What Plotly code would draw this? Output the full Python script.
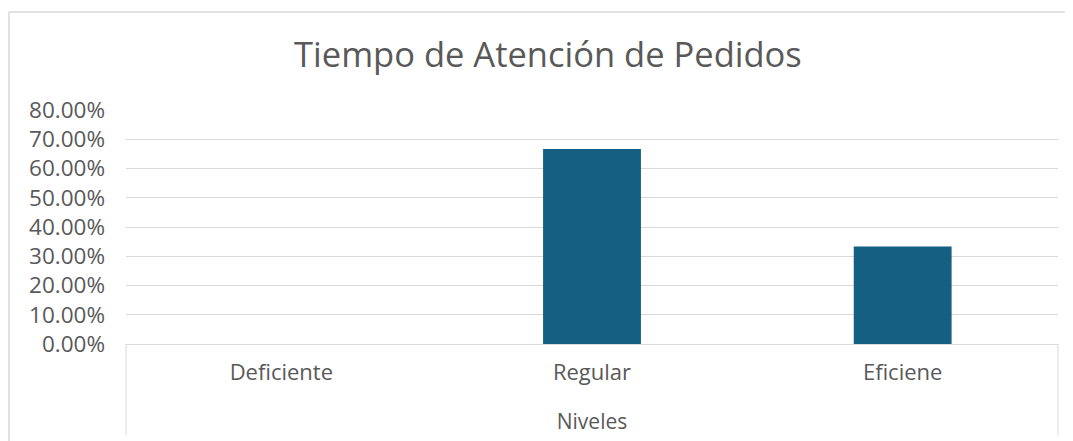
import plotly.graph_objects as go

# chart data
niveles = ["Deficiente", "Regular", "Eficiene"]
porcentajes = [0.0, 0.6667, 0.3333]
y_ticks = [0, 0.1, 0.2, 0.3, 0.4, 0.5, 0.6, 0.7, 0.8]

FONT = "Open Sans"
GREY_TEXT = "#595959"
GRID = "#d9d9d9"

fig = go.Figure()

fig.add_trace(go.Bar(
    x=niveles,
    y=porcentajes,
    marker=dict(color="#156082", line=dict(width=0)),
    showlegend=False,
    hoverinfo="skip",
))

# page body adds an 8px margin, so the figure is sized a little smaller
fig.update_layout(
    width=1065,
    height=433,
    margin=dict(l=118, r=15, t=102, b=97),
    paper_bgcolor="white",
    plot_bgcolor="white",
    bargap=0.685,
    font=dict(family=FONT, color=GREY_TEXT, size=22),
    title=dict(
        text="Tiempo de Atención de Pedidos",
        font=dict(family=FONT, size=34.5, color=GREY_TEXT),
        x=0.507, xanchor="center",
        y=0.892, yanchor="middle",
        xref="container", yref="container",
    ),
)

fig.update_yaxes(
    range=[0, 0.8],
    tickvals=y_ticks,
    tickformat=".2%",
    showgrid=True,
    gridcolor=GRID,
    gridwidth=1,
    zeroline=False,
    showline=False,
    ticks="",
    ticklabelstandoff=20,
    tickfont=dict(size=22.5, color=GREY_TEXT),
)

fig.update_xaxes(
    showline=True,
    linecolor=GRID,
    linewidth=1,
    ticks="",
    ticklabelstandoff=9,
    tickfont=dict(size=22, color=GREY_TEXT),
    title=dict(text="Niveles", standoff=28, font=dict(size=21, color=GREY_TEXT)),
)

# category box side lines below the axis
for xp in (0, 1):
    fig.add_shape(type="line", xref="paper", yref="paper",
                  x0=xp, x1=xp, y0=0, y1=-0.39,
                  line=dict(color=GRID, width=1))

# chart area outline (left and top edges visible)
fig.add_shape(type="line", xref="paper", yref="paper",
              x0=-0.1255, x1=-0.1255, y0=1.419, y1=-0.5,
              line=dict(color=GRID, width=1.5))
fig.add_shape(type="line", xref="paper", yref="paper",
              x0=-0.1255, x1=1.1, y0=1.419, y1=1.419,
              line=dict(color=GRID, width=1.5))

fig.write_html("out.html")
